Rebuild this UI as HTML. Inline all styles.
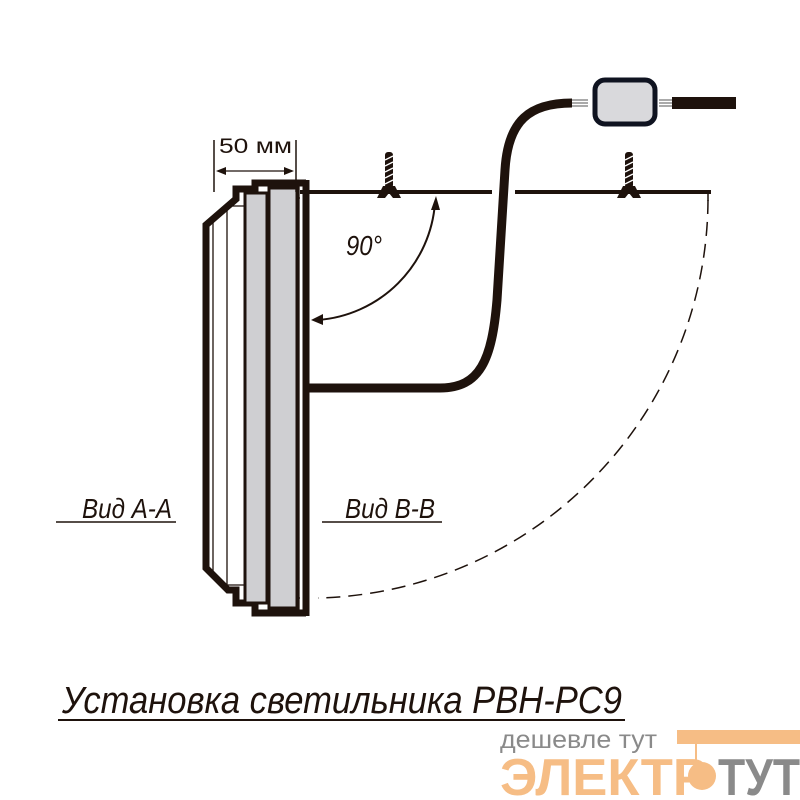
<!DOCTYPE html>
<html><head><meta charset="utf-8"><style>
body{margin:0;background:#fff}
svg{display:block}
text{font-family:"Liberation Sans",sans-serif}
</style></head><body>
<svg width="800" height="800" viewBox="0 0 800 800" xmlns="http://www.w3.org/2000/svg">
<line x1="300" y1="192" x2="492" y2="192" stroke="#1e120c" stroke-width="4"/>
<line x1="515" y1="192" x2="711" y2="192" stroke="#1e120c" stroke-width="4"/>
<line x1="708" y1="192" x2="708" y2="201" stroke="#1e120c" stroke-width="1.5"/>
<g fill="#1e120c">
<path d="M383,186 L395,186 L401,198 L393,198 L389,193 L385,198 L377,198 Z"/>
<rect x="385" y="152" width="8" height="36" rx="3"/>
<path d="M623,186 L635,186 L641,198 L633,198 L629,193 L625,198 L617,198 Z"/>
<rect x="625" y="152" width="8" height="36" rx="3"/>
</g>
<g stroke="#fff" stroke-width="1.3">
<line x1="385" y1="160" x2="393" y2="156"/><line x1="385" y1="166" x2="393" y2="162"/><line x1="385" y1="172" x2="393" y2="168"/><line x1="385" y1="178" x2="393" y2="174"/><line x1="385" y1="184" x2="393" y2="180"/>
<line x1="625" y1="160" x2="633" y2="156"/><line x1="625" y1="166" x2="633" y2="162"/><line x1="625" y1="172" x2="633" y2="168"/><line x1="625" y1="178" x2="633" y2="174"/><line x1="625" y1="184" x2="633" y2="180"/>
</g>
<path d="M708,200 A400,400 0 0 1 318,598" fill="none" stroke="#1e120c" stroke-width="1.5" stroke-dasharray="14,8"/>
<path d="M305,388 L440,388 C480,388 492,360 497,300 L505,170 C508,120 530,103 572,103" fill="none" stroke="#1e120c" stroke-width="9"/>
<g stroke="#555" stroke-width="1"><line x1="572" y1="100" x2="588" y2="100"/><line x1="572" y1="103" x2="588" y2="103"/><line x1="572" y1="106" x2="588" y2="106"/>
<line x1="659" y1="100" x2="672" y2="100"/><line x1="659" y1="103" x2="672" y2="103"/><line x1="659" y1="106" x2="672" y2="106"/></g>
<rect x="595" y="80" width="60" height="44" rx="10" fill="#d9d9dc" stroke="#0f1320" stroke-width="5"/>
<rect x="672" y="97" width="64" height="12" fill="#1e120c"/>
<path d="M306,183 L255,183 L255,189 L236,189 L236,199 L206,225 L206,568 L228,590 L236,590 L236,603 L255,603 L255,613 L306,613" fill="none" stroke="#1e120c" stroke-width="7"/>
<line x1="306" y1="180" x2="306" y2="616" stroke="#1e120c" stroke-width="7"/>
<path d="M300,198 L245,198 L245,206 L226,206 L213,218 L213,575 L226,585 L245,585 L245,598 L300,598" fill="none" stroke="#1e120c" stroke-width="1.3"/>
<line x1="227" y1="206" x2="227" y2="585" stroke="#1e120c" stroke-width="1.3"/>
<rect x="245" y="193" width="22" height="410" fill="#cfcfd2" stroke="#1e120c" stroke-width="3"/>
<rect x="269" y="188" width="28" height="420" fill="#cfcfd2" stroke="#1e120c" stroke-width="3"/>
<line x1="299" y1="186" x2="299" y2="610" stroke="#1e120c" stroke-width="1.3"/>
<line x1="214" y1="140" x2="214" y2="192" stroke="#1e120c" stroke-width="1.5"/>
<line x1="296" y1="140" x2="296" y2="192" stroke="#1e120c" stroke-width="1.5"/>
<line x1="218" y1="171" x2="292" y2="171" stroke="#1e120c" stroke-width="1.2"/>
<path d="M216,171 L226,167 L226,175 Z M294,171 L284,167 L284,175 Z" fill="#1e120c"/>
<text x="219" y="153" font-size="21" fill="#1e120c" textLength="73" lengthAdjust="spacingAndGlyphs">50 мм</text>
<path d="M435,203 A127,127 0 0 1 318,320" fill="none" stroke="#1e120c" stroke-width="2"/>
<path d="M436,196 L431,210 L440,210 Z M311,320 L323,314 L323,325 Z" fill="#1e120c"/>
<text x="346" y="255" font-size="28" font-style="italic" fill="#1e120c" textLength="36" lengthAdjust="spacingAndGlyphs">90°</text>
<text x="82" y="518" font-size="28" font-style="italic" fill="#1e120c" textLength="90" lengthAdjust="spacingAndGlyphs">Вид А-А</text>
<line x1="56" y1="522" x2="176" y2="522" stroke="#1e120c" stroke-width="1.5"/>
<text x="345" y="518" font-size="28" font-style="italic" fill="#1e120c" textLength="90" lengthAdjust="spacingAndGlyphs">Вид В-В</text>
<line x1="322" y1="522" x2="442" y2="522" stroke="#1e120c" stroke-width="1.5"/>
<text x="62" y="713" font-size="38" font-style="italic" fill="#1e120c" textLength="560" lengthAdjust="spacingAndGlyphs">Установка светильника РВН-РС9</text>
<line x1="58" y1="720" x2="625" y2="720" stroke="#1e120c" stroke-width="2"/>
<text x="500" y="748" font-size="25" fill="#8a8a8a" textLength="157" lengthAdjust="spacingAndGlyphs">дешевле тут</text>
<rect x="677" y="730" width="123" height="14" fill="#f6bd85"/>
<text x="500" y="795" font-size="52" font-weight="bold" fill="#f6bd85" textLength="208" lengthAdjust="spacingAndGlyphs">ЭЛЕКТР</text>
<circle cx="702" cy="776" r="14" fill="#f6bd85"/>
<line x1="696" y1="744" x2="696" y2="762" stroke="#f6bd85" stroke-width="2"/>
<text x="718" y="795" font-size="52" font-weight="bold" fill="#8a8a8a" textLength="82" lengthAdjust="spacingAndGlyphs">ТУТ</text>
</svg>
</body></html>
